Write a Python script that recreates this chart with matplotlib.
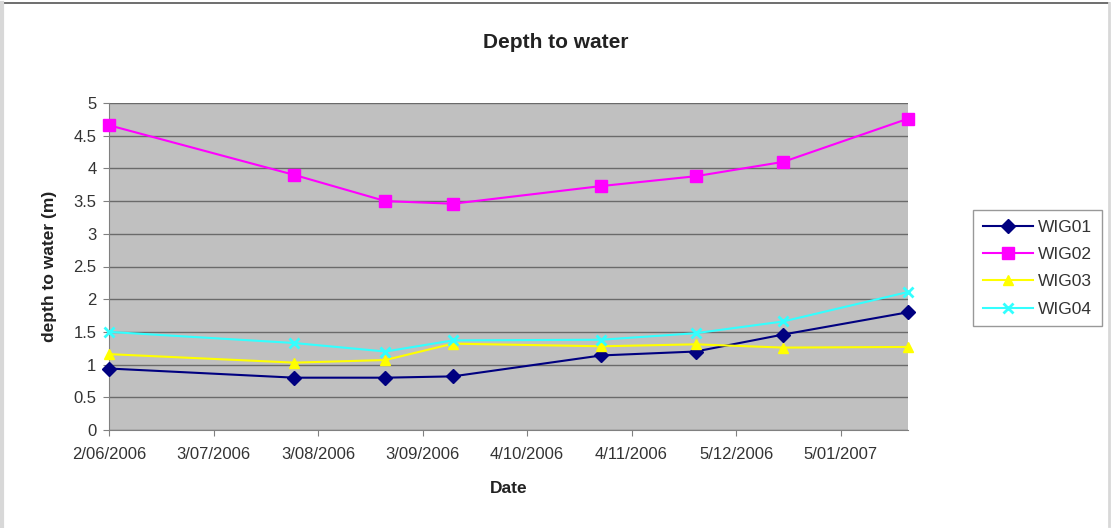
import datetime as dt
import matplotlib
matplotlib.use("Agg")
import matplotlib.pyplot as plt
import matplotlib.dates as mdates
from matplotlib.lines import Line2D

plt.rcParams['font.family'] = ['Liberation Sans', 'DejaVu Sans']

# Sampling dates
dates = [dt.date(2006, 6, 2), dt.date(2006, 7, 27), dt.date(2006, 8, 23),
         dt.date(2006, 9, 12), dt.date(2006, 10, 26), dt.date(2006, 11, 23),
         dt.date(2006, 12, 19), dt.date(2007, 1, 25)]

# Depth to water (m) per well
wig01 = [0.94, 0.80, 0.80, 0.82, 1.14, 1.20, 1.46, 1.80]
wig02 = [4.66, 3.90, 3.50, 3.46, 3.73, 3.88, 4.10, 4.76]
wig03 = [1.16, 1.03, 1.07, 1.32, 1.28, 1.31, 1.26, 1.27]
wig04 = [1.50, 1.33, 1.20, 1.37, 1.38, 1.48, 1.66, 2.11]

series_names = ["WIG01", "WIG02", "WIG03", "WIG04"]
series_colors = ["#000080", "#FF00FF", "#FFFF00", "#33FFFF"]
series_markers = ["D", "s", "^", "x"]

tick_dates = [dt.date(2006, 6, 2), dt.date(2006, 7, 3), dt.date(2006, 8, 3),
              dt.date(2006, 9, 3), dt.date(2006, 10, 4), dt.date(2006, 11, 4),
              dt.date(2006, 12, 5), dt.date(2007, 1, 5)]
y_ticks = [0, 0.5, 1, 1.5, 2, 2.5, 3, 3.5, 4, 4.5, 5]
y_tick_labels = ["0", "0.5", "1", "1.5", "2", "2.5", "3", "3.5", "4", "4.5", "5"]

W, H = 1112, 528
fig = plt.figure(figsize=(W / 100, H / 100), dpi=100)
fig.patch.set_facecolor("white")

# chart frame
fig.add_artist(Line2D([2 / W, 1109 / W], [1 - 3 / H, 1 - 3 / H], transform=fig.transFigure,
                      color="#555555", lw=1.2))
fig.add_artist(Line2D([2 / W, 2 / W], [2 / H, 1 - 3 / H], transform=fig.transFigure,
                      color="#d8d8d8", lw=3))
fig.add_artist(Line2D([1109 / W, 1109 / W], [2 / H, 1 - 3 / H], transform=fig.transFigure,
                      color="#d8d8d8", lw=2))

ax = fig.add_axes([109 / W, 1 - 430 / H, (908 - 109) / W, (430 - 103) / H])
ax.set_facecolor("#C0C0C0")

for vals, name, c, m in zip([wig01, wig02, wig03, wig04], series_names,
                            series_colors, series_markers):
    if m == "x":
        ax.plot(dates, vals, color=c, lw=1.5, marker=m, markersize=7,
                markeredgewidth=2, label=name, clip_on=False, zorder=3)
    else:
        ax.plot(dates, vals, color=c, lw=1.5, marker=m,
                markersize=8 if m == "s" else 7,
                markeredgecolor=c, label=name, clip_on=False, zorder=3)

ax.set_xlim(dt.date(2006, 6, 2), dt.date(2007, 1, 25))
ax.set_ylim(0, 5)
ax.set_yticks(y_ticks)
ax.set_yticklabels(y_tick_labels)
ax.set_xticks(tick_dates)
ax.xaxis.set_major_formatter(mdates.DateFormatter("%-d/%m/%Y"))

ax.grid(axis="y", color="#6a6a6a", lw=1.0)
ax.set_axisbelow(True)

for side in ["top", "right"]:
    ax.spines[side].set_visible(False)
ax.spines["left"].set_color("#808080")
ax.spines["bottom"].set_color("#808080")

ax.tick_params(axis="both", colors="#808080", labelcolor="#333333",
               labelsize=12, length=4, direction="out")
ax.tick_params(axis="x", pad=8)
ax.tick_params(axis="y", pad=5)

fig.text(0.5, 1 - 42 / H, "Depth to water", fontsize=15, fontweight="bold",
         color="#222222", ha="center", va="center")
ax.set_xlabel("Date", fontsize=12.5, fontweight="bold", labelpad=14, color="#222222")
ax.set_ylabel("depth to water (m)", fontsize=12.5, fontweight="bold", labelpad=12,
              color="#222222")

leg = fig.legend(loc="upper left", bbox_to_anchor=(973 / W, 1 - 210 / H),
                 frameon=True, fancybox=False, fontsize=12.5, handlelength=2.9,
                 borderpad=0.55, labelspacing=0.7, handletextpad=0.3,
                 borderaxespad=0)
leg.get_frame().set_edgecolor("#808080")
leg.get_frame().set_linewidth(1.0)
for t in leg.get_texts():
    t.set_color("#333333")

fig.savefig("out.png", dpi=100)
